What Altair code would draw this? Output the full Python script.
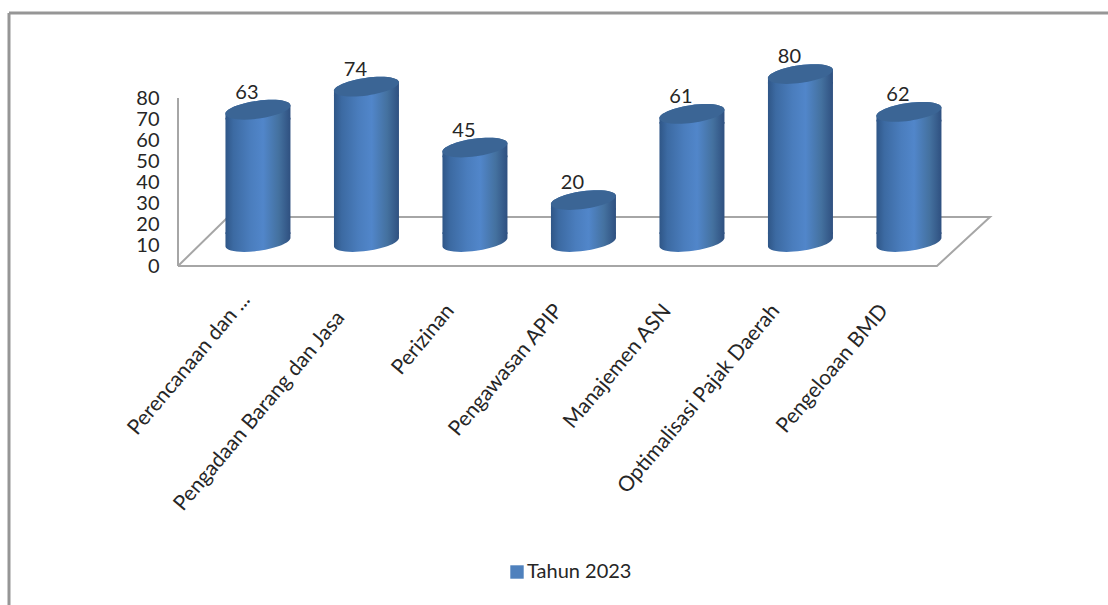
import altair as alt
import pandas as pd

# Survey scores per governance area
categories = [
    "Perencanaan dan ...",
    "Pengadaan Barang dan Jasa",
    "Perizinan",
    "Pengawasan APIP",
    "Manajemen ASN",
    "Optimalisasi Pajak Daerah",
    "Pengeloaan BMD",
]
values = [63, 74, 45, 20, 61, 80, 62]
series_name = "Tahun 2023"
y_ticks = [0, 10, 20, 30, 40, 50, 60, 70, 80]

# Depth of the 3D floor expressed in value units and slot units
floor_lift = 11.4
floor_x = [-0.737, 6.258, 6.747, -0.276, -0.737]
floor_y = [0, 0, 23.3, 23.3, 0]

FONT = "Lato"
TEXT = "#262626"
GRID = "#a6a6a6"
BODY = "#4F81BD"
BAR_W = 65

df = pd.DataFrame({"slot": range(len(categories)), "name": categories, "value": values})
df["series"] = series_name
df["top"] = df["value"] + floor_lift
df["base"] = floor_lift

side_fill = alt.Gradient(
    gradient="linear", x1=0, x2=1, y1=0, y2=0,
    stops=[
        alt.GradientStop(offset=0, color="#2f5687"),
        alt.GradientStop(offset=0.12, color="#3c6aa2"),
        alt.GradientStop(offset=0.38, color="#4a7dbd"),
        alt.GradientStop(offset=0.58, color="#5186ca"),
        alt.GradientStop(offset=0.82, color="#44719f"),
        alt.GradientStop(offset=1, color="#2f5080"),
    ],
)

x_scale = alt.Scale(domain=[-0.737, 6.747], nice=False, zero=False, padding=0)
x_axis = alt.Axis(
    values=list(range(len(categories))),
    labelExpr="['" + "','".join(categories) + "'][datum.value]",
    labelAngle=310, labelAlign="right", labelBaseline="middle",
    labelFont=FONT, labelFontSize=21, labelColor=TEXT, labelLimit=400,
    labelPadding={
        "condition": [
            {"test": "datum.value === 0", "value": 30},
            {"test": "datum.value === 1", "value": 48},
        ],
        "value": 41,
    },
    labelOffset={
        "condition": [
            {"test": "datum.value === 0", "value": -12},
            {"test": "datum.value === 1", "value": -26},
        ],
        "value": -25,
    },
    labelOverlap=False, labelBound=False, labelFlush=False,
    domain=False, ticks=False, grid=False, title=None,
)
y_scale = alt.Scale(domain=[0, 110], nice=False)
y_axis = alt.Axis(
    values=y_ticks, labelFont=FONT, labelFontSize=20, labelColor=TEXT,
    labelPadding=19, labelOverlap=False, labelBound=False, labelFlush=False,
    domain=False, ticks=False, grid=False, title=None,
)


def slot_x(field="slot:Q"):
    return alt.X(field, scale=x_scale, axis=x_axis)


def level_y(field):
    return alt.Y(field, scale=y_scale, axis=y_axis)


floor = (
    alt.Chart(pd.DataFrame({"fx": floor_x, "fy": floor_y, "i": range(5)}))
    .mark_line(color=GRID, strokeWidth=2)
    .encode(x=slot_x("fx:Q"), y=level_y("fy:Q"), order="i:Q")
)
wall = (
    alt.Chart(pd.DataFrame({"fx": [-0.737], "fy": [0], "fy2": [max(y_ticks)]}))
    .mark_rule(color=GRID, strokeWidth=2)
    .encode(x=slot_x("fx:Q"), y=level_y("fy:Q"), y2="fy2:Q")
)

base_chart = alt.Chart(df)

# Tilted ellipses: cap, foot and the slanted collar that joins them to the straight body
top_path = "M-1,0.14 A1,0.27 -8 1,1 1,-0.14 L1,0.3 L-1,0.3 Z"
foot_path = "M-1,-0.3 L-1,0.14 A1,0.27 -8 0,0 1,-0.14 L1,-0.3 Z"
cap_path = "M-1,0.14 A1,0.27 -8 1,1 1,-0.14 A1,0.27 -8 1,1 -1,0.14 Z"
size = BAR_W ** 2

body = base_chart.mark_bar(width=BAR_W, fill=side_fill, yOffset=8, y2Offset=-8).encode(
    x=slot_x(), y=level_y("top:Q"), y2="base:Q"
)
collar = base_chart.mark_point(filled=True, fill=side_fill, opacity=1, shape=top_path, size=size).encode(
    x=slot_x(), y=level_y("top:Q")
)
foot = base_chart.mark_point(filled=True, fill=side_fill, opacity=1, shape=foot_path, size=size).encode(
    x=slot_x(), y=level_y("base:Q")
)
cap = base_chart.mark_point(filled=True, fill="#3b6595", opacity=1, shape=cap_path, size=size).encode(
    x=slot_x(), y=level_y("top:Q")
)
labels = base_chart.mark_text(font=FONT, fontSize=20, color=TEXT, dx=-11, dy=-17).encode(
    x=slot_x(), y=level_y("top:Q"), text="value:Q"
)

# Square swatch in the legend, tied to the series field
swatch = base_chart.mark_point(opacity=0, filled=True).encode(
    x=slot_x(),
    y=level_y("base:Q"),
    color=alt.Color(
        "series:N",
        scale=alt.Scale(domain=[series_name], range=[BODY]),
        legend=alt.Legend(
            orient="none", legendX=329, legendY=527, title=None,
            symbolType="square", symbolSize=180, symbolOpacity=1, symbolStrokeWidth=0,
            labelFont=FONT, labelFontSize=20, labelColor=TEXT, labelOpacity=1, labelOffset=0,
        ),
    ),
)

# Outer frame runs off the right and bottom of the page
frame_top = alt.Chart(pd.DataFrame({"a": [0]})).mark_rule(color="#969696", strokeWidth=3).encode(
    x=alt.value(-169), x2=alt.value(930), y=alt.value(-22)
)
frame_left = alt.Chart(pd.DataFrame({"a": [0]})).mark_rule(color="#969696", strokeWidth=3).encode(
    x=alt.value(-169), y=alt.value(-22), y2=alt.value(570)
)

chart = (
    alt.layer(frame_top, frame_left, floor, wall, swatch, foot, body, collar, cap, labels)
    .properties(
        width=812, height=231,
        padding={"left": 178, "top": 35, "right": 118, "bottom": 339},
        autosize=alt.AutoSizeParams(type="none"),
        background="white",
    )
    .configure_view(stroke=None)
)

chart.save("out.html", embed_options={"renderer": "svg", "actions": False})
